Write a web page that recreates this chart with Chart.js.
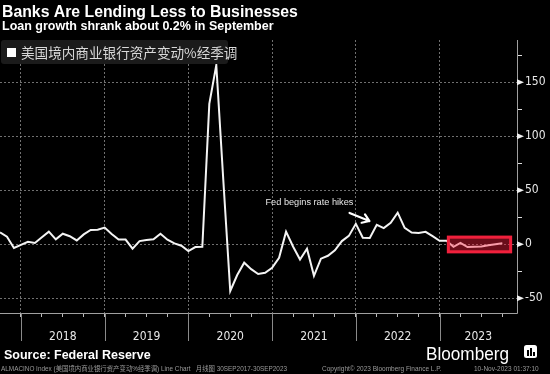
<!DOCTYPE html>
<html>
<head>
<meta charset="utf-8">
<script src="https://cdn.jsdelivr.net/npm/chart.js@4/dist/chart.umd.min.js"></script>
<style>
  html, body { margin: 0; padding: 0; background: #000; }
</style>
</head>
<body>
<canvas id="grafico" width="550" height="374"></canvas>
<script>
// variacao mensal, set/2017 .. set/2023
const valores = [
    11, 7, -3.4, -0.5, 2.4, 1.2, 6.5, 11.7, 4.6, 9.8,
    7.5, 3.6, 9.2, 13.3, 13.5, 15.5, 9.6, 4.4, 4.4, -4,
    3, 4, 4.6, 9.8, 4.3, 0.9, -1.3, -6.2, -2.5, -2.2,
    130, 166, 60, -43.2, -28.4, -17, -23, -27.5, -26.3, -21.8,
    -12.5, 11.7, -2, -14, -4, -29.2, -13.3, -10.6, -5.5, 3,
    7.8, 19, 6.1, 5.8, 18, 15, 20, 29.3, 15.3, 10.9,
    10.5, 11.6, 7.5, 3.3, 3.3, -2.3, 1.3, -2.5, -2.2, -2,
    -0.8, 0, 0.9
];
const anos = ['2018', '2019', '2020', '2021', '2022', '2023'];
const ticksY = [-50, -25, 0, 25, 50, 75, 100, 125, 150, 175];

const legenda = '美国境内商业银行资产变动%经季调';
const nota = 'Fed begins rate hikes';

// eixo x em meses a partir de set/2017
const xMax = 74.1;
const inicioAno = 3; // jan/2018
const trimestres = [];
for (let m = 3; m <= valores.length - 1; m += 3) trimestres.push(m);
const limitesAno = anos.map((a, i) => inicioAno + 12 * i);
const centrosAno = limitesAno.map(b => Math.min(b + 6, (b + xMax) / 2));

// posicoes da nota, seta e caixa (em meses / valor)
const posNota = [44.35, 38.7];
const seta = [50.1, 29, 52.95, 21.6];
const destaque = [64.05, 73.4, -8.3, 8];

const fonteEixo = { family: '"Liberation Sans Narrow", "DejaVu Sans Condensed", sans-serif', size: 12 };
const corGrade = 'rgba(150, 150, 150, 0.75)';
const corEixo = '#a0a0a0';

const decoracao = {
    id: 'decoracao',
    beforeDraw(chart) {
        const c = chart.ctx;
        c.save();
        c.fillStyle = '#000';
        c.fillRect(0, 0, chart.width, chart.height);
        c.restore();
    },
    afterDatasetsDraw(chart) {
        const c = chart.ctx, x = chart.scales.x, y = chart.scales.y;
        c.save();
        // caixa vermelha
        const x0 = x.getPixelForValue(destaque[0]), x1 = x.getPixelForValue(destaque[1]);
        const y0 = y.getPixelForValue(destaque[3]), y1 = y.getPixelForValue(destaque[2]);
        c.fillStyle = 'rgba(252, 31, 62, 0.42)';
        c.fillRect(x0, y0, x1 - x0, y1 - y0);
        c.strokeStyle = '#f0203c';
        c.lineWidth = 3;
        c.strokeRect(x0 + 1.5, y0 + 1.5, x1 - x0 - 3, y1 - y0 - 3);

        // nota
        c.font = '9.2px "Liberation Sans", Arial, sans-serif';
        c.fillStyle = '#e6e6e6';
        c.textAlign = 'center';
        c.textBaseline = 'middle';
        c.fillText(nota, x.getPixelForValue(posNota[0]), y.getPixelForValue(posNota[1]));

        // seta
        const ax = x.getPixelForValue(seta[0]), ay = y.getPixelForValue(seta[1]);
        const bx = x.getPixelForValue(seta[2]), by = y.getPixelForValue(seta[3]);
        const ang = Math.atan2(by - ay, bx - ax);
        c.strokeStyle = '#fff';
        c.lineWidth = 2.2;
        c.lineCap = 'round';
        c.lineJoin = 'round';
        c.beginPath();
        c.moveTo(ax, ay);
        c.lineTo(bx, by);
        c.moveTo(bx - 8 * Math.cos(ang - 0.6), by - 8 * Math.sin(ang - 0.6));
        c.lineTo(bx, by);
        c.lineTo(bx - 8 * Math.cos(ang + 0.6), by - 8 * Math.sin(ang + 0.6));
        c.stroke();
        c.restore();
    },
    afterDraw(chart) {
        const c = chart.ctx, x = chart.scales.x, y = chart.scales.y, a = chart.chartArea;
        c.save();

        // linhas dos eixos (solidas)
        c.strokeStyle = corEixo;
        c.lineWidth = 1;
        c.beginPath();
        c.moveTo(Math.round(a.right) + 0.5, a.top);
        c.lineTo(Math.round(a.right) + 0.5, Math.round(a.bottom) + 0.5);
        c.lineTo(a.left, Math.round(a.bottom) + 0.5);
        c.stroke();

        // triangulos do eixo y
        c.fillStyle = '#f0f0f0';
        ticksY.filter(v => v % 50 === 0).forEach(v => {
            const py = y.getPixelForValue(v);
            c.beginPath();
            c.moveTo(a.right, py - 3);
            c.lineTo(a.right + 7, py);
            c.lineTo(a.right, py + 3);
            c.fill();
        });

        // separadores de ano
        c.strokeStyle = '#8a8a8a';
        limitesAno.forEach(b => {
            const px = Math.round(x.getPixelForValue(b)) + 0.5;
            c.beginPath();
            c.moveTo(px, a.bottom);
            c.lineTo(px, a.bottom + 28);
            c.stroke();
        });

        // legenda
        c.fillStyle = '#1b1b1b';
        c.beginPath();
        c.roundRect(1, a.top, 227, 24, 3);
        c.fill();
        c.fillStyle = '#fff';
        c.fillRect(7, a.top + 8, 9, 9);
        c.fillStyle = '#d9d9d9';
        c.font = '13.6px "Noto Sans CJK SC", sans-serif';
        c.textBaseline = 'middle';
        c.fillText(legenda, 21, a.top + 12.5);

        // titulos
        c.textBaseline = 'alphabetic';
        c.fillStyle = '#fff';
        c.font = 'bold 15.8px "Liberation Sans", Arial, sans-serif';
        c.fillText('Banks Are Lending Less to Businesses', 2, 17);
        c.font = 'bold 12.5px "Liberation Sans", Arial, sans-serif';
        c.fillText('Loan growth shrank about 0.2% in September', 2, 30);

        // fonte e marca
        c.font = 'bold 12.5px "Liberation Sans", Arial, sans-serif';
        c.fillText('Source: Federal Reserve', 4, 359);
        c.font = '18.5px "Liberation Sans", Arial, sans-serif';
        c.fillText('Bloomberg', 426, 360, 83);
        c.beginPath();
        c.roundRect(524, 345, 13, 13, 2.5);
        c.fill();
        c.fillStyle = '#000';
        c.fillRect(527, 350, 2, 6);
        c.fillRect(530, 348, 2, 8);
        c.fillRect(533, 352, 2, 4);

        // rodape
        c.fillStyle = '#9a9a9a';
        c.font = '6.5px "Liberation Sans", "Noto Sans CJK SC", sans-serif';
        c.fillText('ALMACINO Index (美国境内商业银行资产变动%经季调) Line Chart   月线图 30SEP2017-30SEP2023', 1, 371, 286);
        c.fillText('Copyright© 2023 Bloomberg Finance L.P.', 322, 371, 124);
        c.fillText('10-Nov-2023 01:37:10', 474, 371, 71);
        c.restore();
    }
};

const grafico = document.getElementById('grafico').getContext('2d');

new Chart(grafico, {
    type: 'line',
    data: {
        datasets: [{
            data: valores.map((v, i) => ({ x: i, y: v })),
            borderColor: '#f4f4f4',
            borderWidth: 2,
            pointRadius: 0,
            tension: 0
        }]
    },
    options: {
        responsive: false,
        animation: false,
        layout: { padding: { top: 40, left: 0, right: 0, bottom: 33 } },
        plugins: {
            legend: { display: false },
            tooltip: { enabled: false }
        },
        scales: {
            x: {
                type: 'linear',
                min: 0,
                max: xMax,
                weight: 0,
                afterBuildTicks: s => { s.ticks = trimestres.map(v => ({ value: v })); },
                afterFit: s => { s.height = 6; },
                ticks: { display: false, autoSkip: false },
                grid: {
                    color: c => c.tick && (c.tick.value - inicioAno) % 12 === 0 ? corGrade : 'transparent',
                    tickColor: '#bdbdbd',
                    tickLength: 4,
                    tickBorderDash: []
                },
                border: { color: 'transparent', dash: [2, 2] }
            },
            anos: {
                type: 'linear',
                position: 'bottom',
                min: 0,
                max: xMax,
                weight: 1,
                afterBuildTicks: s => { s.ticks = centrosAno.map(v => ({ value: v })); },
                afterFit: s => { s.height = 22; },
                ticks: {
                    callback: (v, i) => anos[i],
                    color: '#e8e8e8',
                    font: fonteEixo,
                    padding: 11,
                    autoSkip: false,
                    maxRotation: 0
                },
                grid: { display: false, drawTicks: false },
                border: { display: false }
            },
            y: {
                position: 'right',
                min: -63.6,
                max: 189.2,
                afterBuildTicks: s => { s.ticks = ticksY.map(v => ({ value: v })); },
                afterFit: s => { s.width = 33; },
                ticks: {
                    callback: v => v % 50 === 0 ? v : '',
                    color: '#e8e8e8',
                    font: fonteEixo,
                    padding: 3,
                    autoSkip: false
                },
                grid: {
                    color: c => c.tick && c.tick.value % 50 === 0 ? corGrade : 'transparent',
                    tickColor: c => c.tick && c.tick.value % 50 === 0 ? 'transparent' : '#dddddd',
                    tickLength: 5,
                    tickBorderDash: []
                },
                border: { color: 'transparent', dash: [2, 2] }
            }
        }
    },
    plugins: [decoracao]
});
</script>
</body>
</html>
